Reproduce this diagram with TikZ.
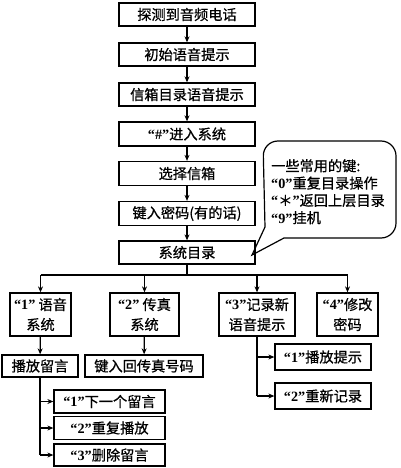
\documentclass[tikz,border=0pt]{standalone}
\usepackage{fontspec}
\setmainfont{Noto Sans CJK SC}[FakeBold=0.7]
\newfontfamily\lat{Liberation Serif}
\usetikzlibrary{arrows.meta}
\newcommand\qq[1]{{\lat\bfseries “#1”}}
\begin{document}
\begin{tikzpicture}[x=1pt,y=-1pt,
  box/.style={draw,line width=1.3pt,inner sep=0pt,align=center,font=\fontsize{14.2}{20}\selectfont},
  ln/.style={line width=1.3pt},
  arr/.style={line width=1.3pt,-{Stealth[length=6pt,width=5pt]}}]
\useasboundingbox (0,0) rectangle (400,468);
% main column
\node[box,minimum width=136pt,minimum height=23pt] (n1) at (187,14.5) {探测到音频电话};
\node[box,minimum width=136pt,minimum height=23pt] (n2) at (187,54.5) {初始语音提示};
\node[box,minimum width=136pt,minimum height=23pt] (n3) at (187,94.5) {信箱目录语音提示};
\node[box,minimum width=136pt,minimum height=24pt] (n4) at (187,134) {\qq{\#}进入系统};
\node[box,minimum width=136pt,minimum height=24pt] (n5) at (187,173.5) {选择信箱};
\node[box,minimum width=136pt,minimum height=24pt] (n6) at (187,213.5) {键入密码(有的话)};
\node[box,minimum width=136pt,minimum height=23pt] (n7) at (187,252.5) {系统目录};
\foreach \a/\b in {n1/n2,n2/n3,n3/n4,n4/n5,n5/n6,n6/n7}
  \draw[arr] (\a) -- (\b);
% callout
\draw[line width=1.2pt] (252,255) -- (265,227) [rounded corners=15pt] -- (263,141) -- (396,141) -- (396,238) [sharp corners] -- (284,238) -- cycle;
\node[anchor=north west,inner sep=0pt,align=left,font=\fontsize{14.2}{17.3}\selectfont] (tips) at (271,159)
  {一些常用的键:\\\qq{0}重复目录操作\\{\lat\bfseries “}＊{\lat\bfseries ”}返回上层目录\\\qq{9}挂机};
% second level
\coordinate (bus) at (187,275);
\node[box,minimum width=61pt,minimum height=43pt] (b1) at (40.5,314.5) {\qq{1} 语音\\系统};
\node[box,minimum width=69pt,minimum height=43pt] (b2) at (144.5,314.5) {\qq{2} 传真\\系统};
\node[box,minimum width=76pt,minimum height=43pt] (b3) at (257,314.5) {\qq{3}记录新\\语音提示};
\node[box,minimum width=61pt,minimum height=43pt] (b4) at (347.5,314.5) {\qq{4}修改\\密码};
\draw[ln] (n7) -- (bus);
\draw[ln] (b1.north |- bus) -- (b4.north |- bus);
\foreach \b in {b1,b2,b3,b4} \draw[arr] (\b.north |- bus) -- (\b.north);
% third level
\node[box,minimum width=76pt,minimum height=22pt] (c1) at (40,366) {播放留言};
\node[box,minimum width=118pt,minimum height=22pt] (c2) at (144,366) {键入回传真号码};
\draw[arr] (b1) -- (c1);
\draw[arr] (b2) -- (c2);
% "3" children
\node[box,minimum width=96pt,minimum height=26pt] (r1) at (323,357) {\qq{1}播放提示};
\node[box,minimum width=96pt,minimum height=26pt] (r2) at (323,396) {\qq{2}重新记录};
\draw[ln] (b3.south) -- (b3.south |- r2.west);
\draw[arr] (b3.south |- r1.west) -- (r1.west);
\draw[arr] (b3.south |- r2.west) -- (r2.west);
% 播放留言 children
\node[box,minimum width=111pt,minimum height=23pt] (d1) at (109.5,401.5) {\qq{1}下一个留言};
\node[box,minimum width=111pt,minimum height=23pt] (d2) at (109.5,428) {\qq{2}重复播放};
\node[box,minimum width=111pt,minimum height=22pt] (d3) at (109.5,455) {\qq{3}删除留言};
\draw[ln] (c1.south) -- (c1.south |- d3.west);
\foreach \d in {d1,d2,d3} \draw[arr] (c1.south |- \d.west) -- (\d.west);
\end{tikzpicture}
\end{document}
